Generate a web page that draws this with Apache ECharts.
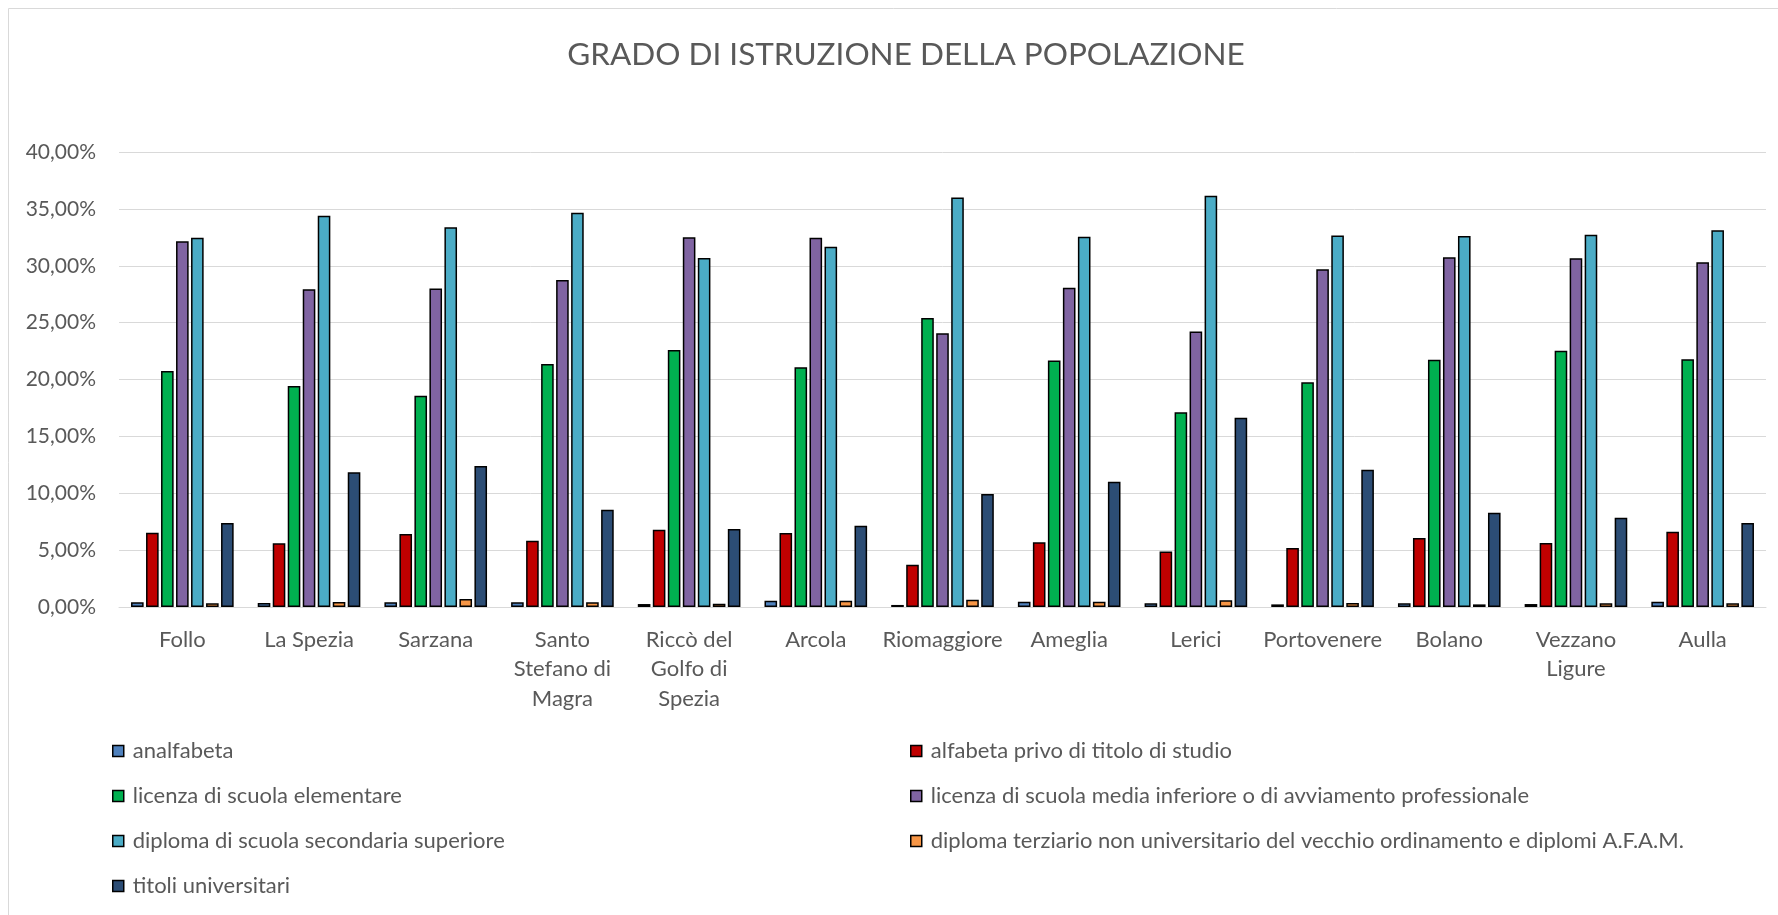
<!DOCTYPE html>
<html>
<head>
<meta charset="utf-8">
<script src="https://cdn.jsdelivr.net/npm/echarts@6/dist/echarts.min.js"></script>
<style>
  html, body { margin: 0; padding: 0; background: #fff; }
  #chart { width: 1778px; height: 915px; }
</style>
</head>
<body>
<div id="chart"></div>
<script>
// Comuni (axis labels, with line breaks where the label wraps)
const categories = ['Follo', 'La Spezia', 'Sarzana', 'Santo\nStefano di\nMagra', 'Riccò del\nGolfo di\nSpezia',
  'Arcola', 'Riomaggiore', 'Ameglia', 'Lerici', 'Portovenere', 'Bolano', 'Vezzano\nLigure', 'Aulla'];

// Share of the population (%) for each education level
const analfabeta   = [0.41, 0.35, 0.41, 0.41, 0.26, 0.56, 0.18, 0.47, 0.32, 0.23, 0.32, 0.26, 0.47];
const alfabeta     = [6.53, 5.60, 6.42, 5.83, 6.80, 6.51, 3.72, 5.69, 4.89, 5.19, 6.07, 5.63, 6.62];
const elementare   = [20.75, 19.43, 18.58, 21.36, 22.59, 21.07, 25.41, 21.68, 17.11, 19.75, 21.74, 22.53, 21.77];
const media        = [32.15, 27.93, 28.01, 28.75, 32.50, 32.47, 24.06, 28.07, 24.21, 29.69, 30.74, 30.65, 30.30];
const diploma      = [32.47, 34.40, 33.38, 34.67, 30.68, 31.68, 35.99, 32.56, 36.16, 32.67, 32.62, 32.73, 33.11];
const terziario    = [0.32, 0.44, 0.70, 0.41, 0.29, 0.56, 0.64, 0.47, 0.59, 0.35, 0.23, 0.32, 0.32];
const universitari = [7.38, 11.84, 12.40, 8.56, 6.86, 7.15, 9.93, 11.02, 16.64, 12.07, 8.29, 7.85, 7.38];

const seriesNames = [
  'analfabeta',
  'alfabeta privo di titolo di studio',
  'licenza di scuola elementare',
  'licenza di scuola media inferiore o di avviamento professionale',
  'diploma di scuola secondaria superiore',
  'diploma terziario non universitario del vecchio ordinamento e diplomi A.F.A.M.',
  'titoli universitari'
];
const seriesData = [analfabeta, alfabeta, elementare, media, diploma, terziario, universitari];
const colors = ['#4F81BD', '#C00000', '#00B050', '#8064A2', '#4BACC6', '#F79646', '#2C4D75'];

const FONT = 'Lato, "Open Sans", sans-serif';
const TEXT = '#595959';

const legendCommon = {
  orient: 'vertical',
  icon: 'rect',
  itemWidth: 11,
  itemHeight: 11,
  itemGap: 21,
  padding: 0,
  selectedMode: false,
  textStyle: { fontFamily: FONT, fontSize: 22, color: TEXT, lineHeight: 24, padding: [0, 0, 0, 4] },
  itemStyle: { borderColor: '#000', borderWidth: 1.5 }
};

const chart = echarts.init(document.getElementById('chart'), null, { renderer: 'canvas' });
chart.setOption({
  animation: false,
  color: colors,
  title: {
    text: 'GRADO DI ISTRUZIONE DELLA POPOLAZIONE',
    left: 901,
    top: 34,
    textAlign: 'center',
    textStyle: { fontFamily: FONT, fontSize: 31.5, fontWeight: 'normal', color: TEXT }
  },
  graphic: [{
    type: 'rect',
    shape: { x: 8.5, y: 8.5, width: 2000, height: 2000 },
    style: { fill: 'none', stroke: '#D9D9D9', lineWidth: 1 },
    silent: true
  }],
  legend: [
    Object.assign({}, legendCommon, {
      left: 112, top: 739,
      data: [seriesNames[0], seriesNames[2], seriesNames[4], seriesNames[6]]
    }),
    Object.assign({}, legendCommon, {
      left: 910, top: 739,
      data: [seriesNames[1], seriesNames[3], seriesNames[5]]
    })
  ],
  grid: { left: 119, right: 12, top: 152, bottom: 308, containLabel: false },
  xAxis: {
    type: 'category',
    data: categories,
    axisLine: { show: true, lineStyle: { color: '#D9D9D9', width: 1 } },
    axisTick: { show: false },
    axisLabel: {
      interval: 0,
      margin: 18,
      fontFamily: FONT,
      fontSize: 22,
      lineHeight: 29.5,
      color: TEXT,
      verticalAlign: 'top'
    }
  },
  yAxis: {
    type: 'value',
    min: 0,
    max: 40,
    interval: 5,
    axisLine: { show: false },
    axisTick: { show: false },
    splitLine: { lineStyle: { color: '#D9D9D9', width: 1 } },
    axisLabel: {
      margin: 23,
      fontFamily: FONT,
      fontSize: 21,
      color: TEXT,
      formatter: v => v.toFixed(2).replace('.', ',') + '%'
    }
  },
  series: seriesNames.map((name, i) => ({
    name: name,
    type: 'bar',
    data: seriesData[i],
    barGap: '19%',
    barCategoryGap: '19%',
    itemStyle: { color: colors[i], borderColor: '#000', borderWidth: 1.5 }
  }))
});
</script>
</body>
</html>
